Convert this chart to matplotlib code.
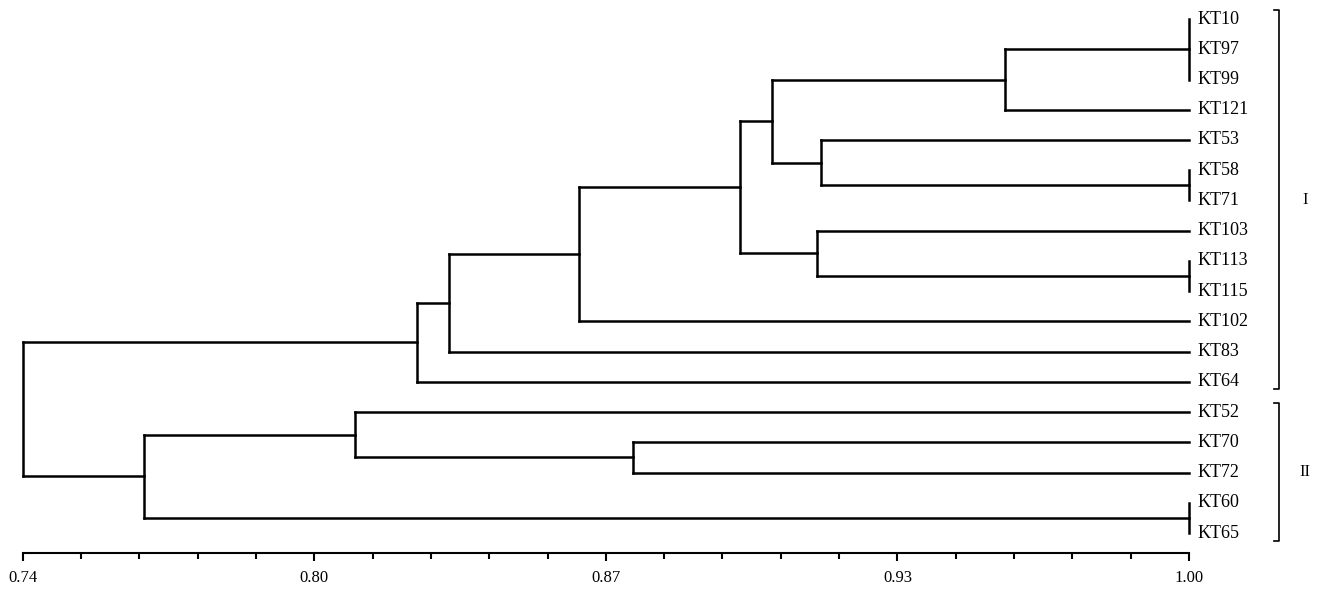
#!/usr/bin/env python
import numpy as np
import matplotlib
matplotlib.use("Agg")
from matplotlib import pyplot as plt
from matplotlib.ticker import FixedLocator

# leaves, top to bottom
leaves = ["KT10", "KT97", "KT99", "KT121", "KT53", "KT58", "KT71", "KT103",
          "KT113", "KT115", "KT102", "KT83", "KT64", "KT52", "KT70", "KT72",
          "KT60", "KT65"]

# merges: (children, similarity); ids 0..17 are leaves, new clusters get 18, 19, ...
merges = [
    ([0, 1, 2], 1.00),      # 18 KT10 KT97 KT99
    ([18, 3], 0.959),       # 19
    ([5, 6], 1.00),         # 20 KT58 KT71
    ([4, 20], 0.918),       # 21
    ([19, 21], 0.907),      # 22
    ([8, 9], 1.00),         # 23 KT113 KT115
    ([7, 23], 0.917),       # 24
    ([22, 24], 0.900),      # 25
    ([25, 10], 0.864),      # 26
    ([26, 11], 0.835),      # 27
    ([27, 12], 0.828),      # 28
    ([14, 15], 0.876),      # 29 KT70 KT72
    ([13, 29], 0.814),      # 30
    ([16, 17], 1.00),       # 31 KT60 KT65
    ([30, 31], 0.767),      # 32
    ([28, 32], 0.740),      # 33 root
]

groups = [("I", 0, 12), ("II", 13, 17)]

major_ticks = [0.74, 0.805, 0.87, 0.935, 1.00]
major_labels = ["0.74", "0.80", "0.87", "0.93", "1.00"]
minor_step = 0.013


def main():
    plt.rcParams["font.family"] = ["Liberation Serif", "DejaVu Serif"]
    fig = plt.figure(figsize=(13.25, 6.04), dpi=100)
    ax = fig.add_axes([0.0171, 0.0844, 0.8803, 0.9156])

    lw = 1.8
    pos = {i: (1.00, float(i)) for i in range(len(leaves))}
    for k, (children, h) in enumerate(merges):
        ys = [pos[c][1] for c in children]
        ax.plot([h, h], [min(ys), max(ys)], color="black", lw=lw,
                solid_capstyle="projecting", clip_on=False)
        for c in children:
            cx, cy = pos[c]
            if cx != h:
                ax.plot([h, cx], [cy, cy], color="black", lw=lw,
                        solid_capstyle="projecting", clip_on=False)
        pos[len(leaves) + k] = (h, (min(ys) + max(ys)) / 2)

    for i, name in enumerate(leaves):
        ax.annotate(name, (1.00, i), xytext=(6, 0), textcoords="offset points",
                    va="center", ha="left", fontsize=13, annotation_clip=False)

    # group brackets on the right
    tr = ax.get_yaxis_transform()
    bx = 1.0772
    for label, a, b in groups:
        y0, y1 = a - 0.30, b + 0.25
        ax.plot([bx - 0.004, bx, bx, bx - 0.004], [y0, y0, y1, y1],
                color="black", lw=1.2, transform=tr, clip_on=False)
        ax.text(bx + 0.022, (y0 + y1) / 2, label, transform=tr,
                va="center", ha="center", fontsize=12)

    ax.set_xlim(0.74, 1.00)
    ax.set_ylim(17.66, -0.63)
    for s in ["top", "right", "left"]:
        ax.spines[s].set_visible(False)
    ax.spines["bottom"].set_linewidth(1.5)
    ax.set_yticks([])
    ax.set_xticks(major_ticks)
    ax.set_xticklabels(major_labels, fontsize=12)
    ax.xaxis.set_minor_locator(FixedLocator(np.arange(0.74, 1.0001, minor_step)))
    ax.tick_params(axis="x", which="major", direction="out", length=6,
                   width=1.5, pad=6)
    ax.tick_params(axis="x", which="minor", direction="out", length=4,
                   width=1.5)

    fig.savefig("out.png", dpi=100)


if __name__ == "__main__":
    main()
